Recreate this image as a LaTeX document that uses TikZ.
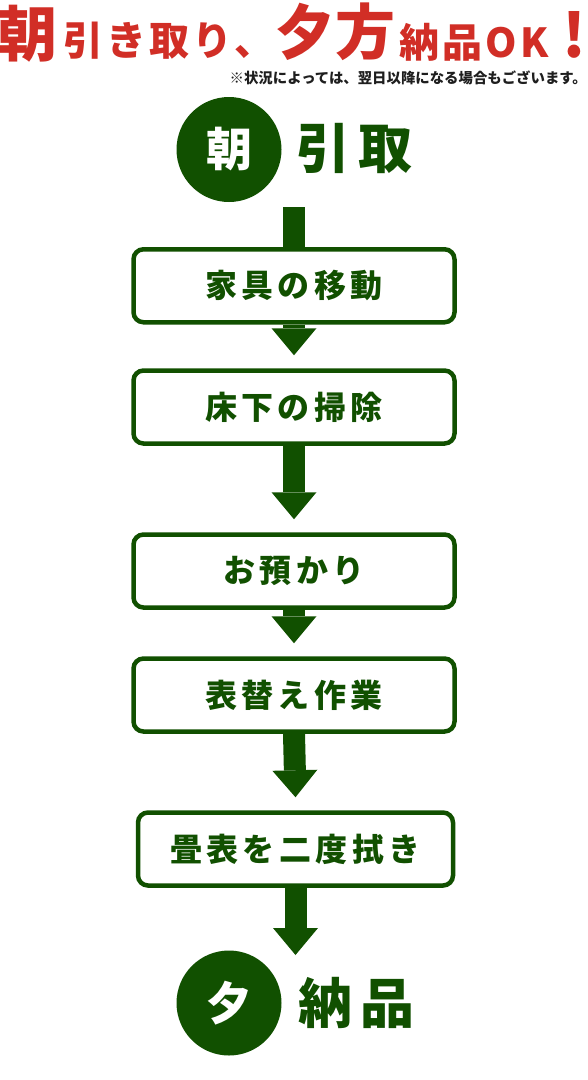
\documentclass[tikz,border=0pt]{standalone}
\usepackage{fontspec}
\setmainfont{Noto Sans CJK JP}
\usetikzlibrary{arrows.meta}
\definecolor{matgreen}{RGB}{17,80,0}
\definecolor{headred}{RGB}{209,46,38}
\definecolor{notegray}{RGB}{30,30,30}
\newcommand{\fsz}[1]{\fontsize{#1}{#1}\selectfont}

\begin{document}
\begin{tikzpicture}[x=1pt,y=-1pt,line cap=butt,
  every node/.style={inner sep=0pt},
  headbig/.style={text=headred,font=\bfseries\fsz{60}},
  headsmall/.style={text=headred,font=\bfseries\fsz{40}\addfontfeatures{LetterSpace=8}},
  note/.style={text=notegray,font=\bfseries\fsz{14.4}},
  badge/.style={circle,fill=matgreen,minimum size=105pt,text=white,font=\bfseries\fsz{46}},
  title/.style={text=matgreen,font=\bfseries\fsz{54}\addfontfeatures{LetterSpace=15}},
  stepbox/.style={draw=matgreen,line width=4.5pt,rounded corners=10pt,fill=white,
    minimum width=321pt,minimum height=73pt,text=matgreen,
    font=\bfseries\fsz{32}\addfontfeatures{LetterSpace=14}},
  flow/.style={draw=matgreen,line width=22pt,
    -{Triangle[width=45pt,length=27pt,line width=0pt]}}]
\useasboundingbox (0,0) rectangle (588,1080);

\node[headbig] (hAsa) at (28,34) {朝};
\node[headsmall,anchor=west] (hHiki) at (63,41) {引き取り、};
\node[headbig,anchor=west] (hYu) at (275,32) {夕方};
\node[headsmall,anchor=west] (hNou) at (399,42) {納品OK};
\node[headbig,anchor=east] (hBang) at (587,35) {!};
\node[note,anchor=east] (hNote) at (587,78) {※状況によっては、翌日以降になる場合もございます。};

\node[badge] (asa) at (229,149.5) {朝};
\node[title,anchor=west] (asaLbl) at (296,148) {引取};
\coordinate (s0) at (294,207);

\node[stepbox] (b1) at (294,285.75) {家具の移動};
\node[stepbox] (b2) at (294,407) {床下の掃除};
\node[stepbox] (b3) at (294,571) {お預かり};
\node[stepbox] (b4) at (294,695) {表替え作業};
\node[stepbox,minimum width=315pt] (b5) at (295.5,849) {畳表を二度拭き};

\node[badge] (yu) at (229,1003) {夕};
\node[title,anchor=west] (yuLbl) at (298,1003) {納品};
\coordinate (t5) at (295.5,955);

\draw[matgreen,line width=22pt] (s0) -- (b1.north);
\draw[flow] (b1.south) -- ([yshift=13pt]b2.north);
\draw[flow] (b2.south) -- ([yshift=13pt]b3.north);
\draw[flow] (b3.south) -- ([yshift=13pt]b4.north);
\draw[flow] (b4.south) -- ([yshift=13pt]b5.north);
\draw[flow] (b5.south) -- (t5);
\end{tikzpicture}
\end{document}
